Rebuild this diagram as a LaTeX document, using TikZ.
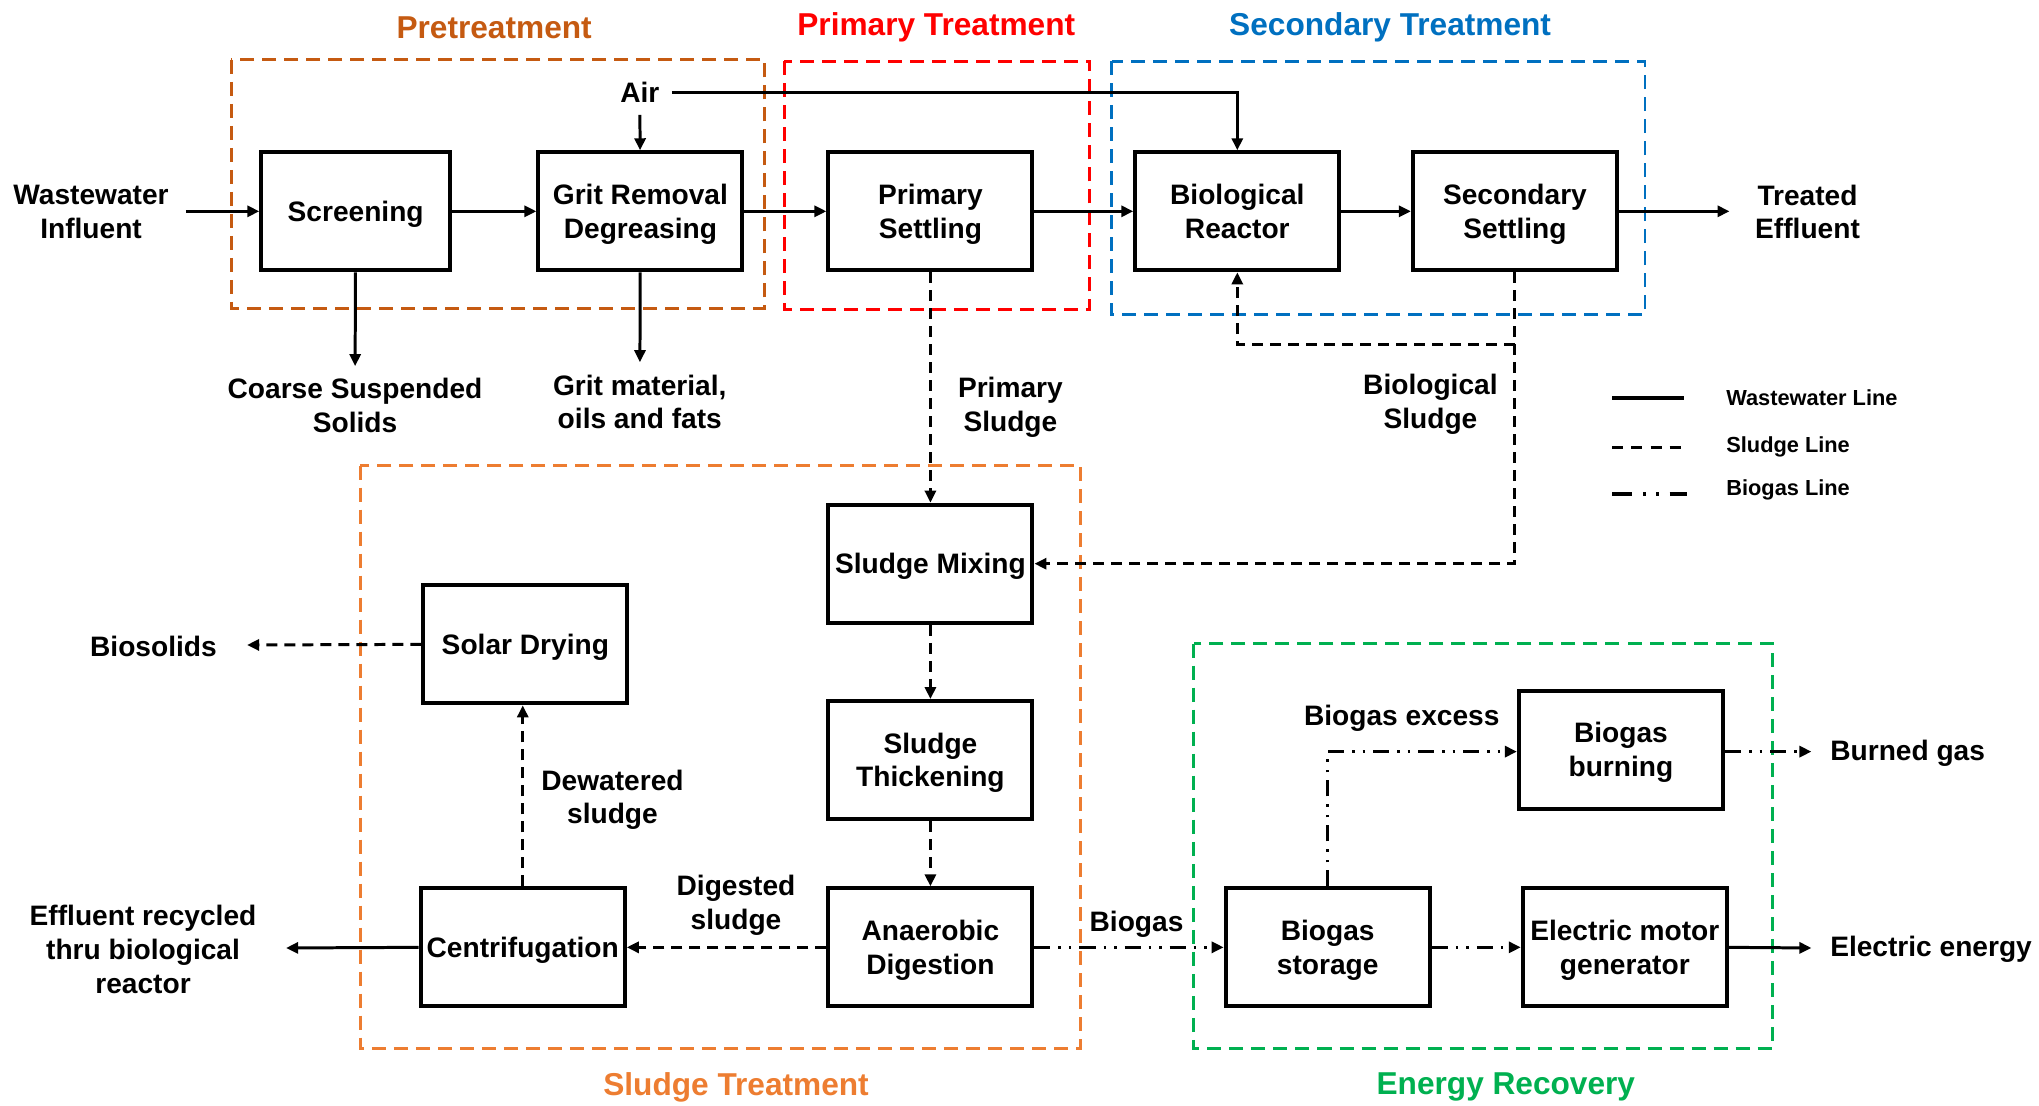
\documentclass[tikz,border=0pt]{standalone}
\usepackage{fontspec}
\setmainfont{Liberation Sans}
\usetikzlibrary{arrows.meta}
\definecolor{cPre}{HTML}{C55A11}
\definecolor{cPri}{HTML}{FF0000}
\definecolor{cSec}{HTML}{0070C0}
\definecolor{cSlu}{HTML}{ED7D31}
\definecolor{cEne}{HTML}{00B050}
% line strut: equal optical spacing above and below every line in a box
\newcommand{\lnst}{\rule[-0.065cm]{0pt}{0.33cm}}
\begin{document}
\begin{tikzpicture}[x=0.013004cm,y=-0.013004cm,
  font=\bfseries\fontsize{8}{9.6}\selectfont,
  box/.style={draw,line width=1.15pt,minimum width=2.04cm,minimum height=1.18cm,align=center,inner sep=1pt},
  lbl/.style={align=center},
  ttl/.style={font=\bfseries\fontsize{9}{11}\selectfont},
  legtxt/.style={anchor=west,font=\bfseries\fontsize{6.2}{7.5}\selectfont},
  frame/.style={line width=0.85pt,dash pattern=on 0.14cm off 0.08cm},
  tip/.style={-{Triangle[length=0.12cm,width=0.11cm]}},
  ww/.style={line width=0.85pt,tip},
  sl/.style={line width=0.85pt,dash pattern=on 0.11cm off 0.07cm,tip},
  bg/.style={line width=0.85pt,dash pattern=on 0.16cm off 0.08cm on 0.025cm off 0.08cm on 0.025cm off 0.08cm,tip},
]
\useasboundingbox (0,0) rectangle (1568,850);

% group frames
\draw[frame,cPre] (178,46) rectangle (588,237);
\draw[frame,cPri] (603,47) rectangle (838,238);
\draw[frame,cSec] (855,47) rectangle (1265,242);
\draw[frame,cSlu] (277,358) rectangle (831,806);
\draw[frame,cEne] (918,495) rectangle (1363,806);

% group titles
\node[ttl,text=cPre] (tPre) at (380,21) {Pretreatment};
\node[ttl,text=cPri] (tPri) at (720,21) {Primary Treatment};
\node[ttl,text=cSec] (tSec) at (1069,21) {Secondary Treatment};
\node[ttl,text=cSlu] (tSlu) at (566,836) {Sludge Treatment};
\node[ttl,text=cEne] (tEne) at (1158,836) {Energy Recovery};

% process units
\node[box,minimum width=1.886cm] (scr) at (273.5,162.5) {\lnst Screening};
\node[box] (grit) at (492.5,162.5) {\lnst Grit Removal\\\lnst Degreasing};
\node[box] (pri) at (715.5,162.5) {\lnst Primary\\\lnst Settling};
\node[box] (bio) at (951.5,162.5) {\lnst Biological\\\lnst Reactor};
\node[box] (sec) at (1165,162.5) {\lnst Secondary\\\lnst Settling};
\node[box] (mix) at (715.5,433.5) {\lnst Sludge Mixing};
\node[box] (thk) at (715.5,584.5) {\lnst Sludge\\\lnst Thickening};
\node[box] (dig) at (715.5,728.5) {\lnst Anaerobic\\\lnst Digestion};
\node[box] (sol) at (404,495.5) {\lnst Solar Drying};
\node[box] (cen) at (402,728.5) {\lnst Centrifugation};
\node[box] (sto) at (1021,728.5) {\lnst Biogas\\\lnst storage};
\node[box] (gen) at (1249.5,728.5) {\lnst Electric motor\\\lnst generator};
\node[box] (brn) at (1246.5,576.5) {\lnst Biogas\\\lnst burning};

% stream labels
\node[lbl] (win) at (70,163) {Wastewater\\Influent};
\node[lbl] (teff) at (1390,163) {Treated\\Effluent};
\node[lbl] (air) at (492,71) {Air};
\node[lbl] (css) at (273,312) {Coarse Suspended\\Solids};
\node[lbl] (gmo) at (492,309) {Grit material,\\oils and fats};
\node[lbl] (psl) at (777,313) {Primary\\Sludge};
\node[lbl] (bsl) at (1100,311) {Biological\\Sludge};
\node[lbl] (bios) at (118,497) {Biosolids};
\node[lbl] (dws) at (471,615) {Dewatered\\sludge};
\node[lbl] (dgs) at (566,696) {Digested\\sludge};
\node[lbl] (erc) at (110,730) {Effluent recycled\\thru biological\\reactor};
\node[lbl] (bgs) at (874,711) {Biogas};
\node[lbl] (bgx) at (1078,552) {Biogas excess};
\node[lbl] (bgd) at (1467,579) {Burned gas};
\node[lbl] (ele) at (1485,730) {Electric energy};

% free ends of connectors
\coordinate (inA) at (143,162.5);
\coordinate (outTE) at (1330,162.5);
\coordinate (outBS) at (190,496);
\coordinate (outER) at (220,729);
\coordinate (outBG) at (1393,578);
\coordinate (outEE) at (1393,729);
\coordinate (ret) at (1165,265);

% wastewater line
\draw[ww] (inA) -- (scr.west);
\draw[ww] (scr) -- (grit);
\draw[ww] (grit) -- (pri);
\draw[ww] (pri) -- (bio);
\draw[ww] (bio) -- (sec);
\draw[ww] (sec.east) -- (outTE);
\draw[ww] (air) -- (grit);
\draw[ww] (air.east) -| (bio.north);
\draw[ww] (scr) -- (css);
\draw[ww] (grit) -- (gmo);
\draw[ww] (cen.west) -- (outER);
\draw[ww] (gen.east) -- (outEE);

% sludge line
\draw[sl] (pri) -- (mix);
\draw[sl] (sec.south) |- (mix.east);
\draw[sl] (ret) -| (bio.south);
\draw[sl] (mix) -- (thk);
\draw[sl] (thk) -- (dig);
\draw[sl] (dig.west) -- (cen.east);
\draw[sl] (cen.north) -- (cen.north |- sol.south);
\draw[sl] (sol.west) -- (outBS);

% biogas line
\draw[bg] (dig.east) -- (sto.west);
\draw[bg] (sto.east) -- (sto.east -| gen.west);
\draw[bg] (sto.north) |- (brn.west |- 0,578);
\draw[bg] (brn.east |- outBG) -- (outBG);

% legend
\coordinate (lg1a) at (1240,306); \coordinate (lg1b) at (1295,306);
\coordinate (lg2a) at (1240,344); \coordinate (lg2b) at (1295,344);
\coordinate (lg3a) at (1240,380); \coordinate (lg3b) at (1297,380);
\draw[line width=0.95pt] (lg1a) -- (lg1b);
\draw[line width=0.95pt,dash pattern=on 0.11cm off 0.08cm] (lg2a) -- (lg2b);
\draw[line width=0.95pt,dash pattern=on 0.2cm off 0.11cm on 0.025cm off 0.1cm on 0.025cm off 0.11cm] (lg3a) -- (lg3b);
\node[legtxt] (lgw) at (1318,306) {Wastewater Line};
\node[legtxt] (lgs) at (1318,344) {Sludge Line};
\node[legtxt] (lgb) at (1318,377) {Biogas Line};
\end{tikzpicture}
\end{document}
